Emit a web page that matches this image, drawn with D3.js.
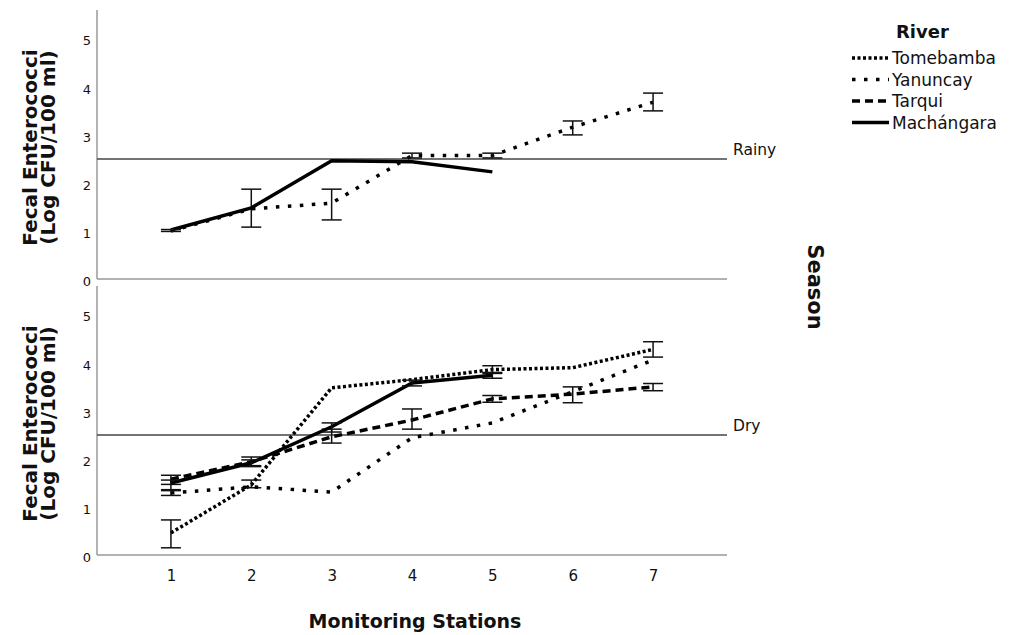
<!DOCTYPE html>
<html>
<head>
<meta charset="utf-8">
<script src="https://cdn.jsdelivr.net/npm/d3@7"></script>
<style>
  body { margin: 0; background: #fff; }
  text { font-family: "DejaVu Sans", sans-serif; fill: #111; }
</style>
</head>
<body>
<div id="chart"></div>
<script>
// stations on the x axis
const stations = [1, 2, 3, 4, 5, 6, 7];
const rivers = ["Tomebamba", "Yanuncay", "Tarqui", "Machángara"];
const yTicks = [0, 1, 2, 3, 4, 5];

// rainy season means and error bars (null = no value)
const rainyYanuncay   = [1.0, 1.46, 1.58, 2.57, 2.57, 3.16, 3.68];
const rainyYanLo      = [null, 1.08, 1.23, 2.52, 2.52, 3.0, 3.5];
const rainyYanHi      = [null, 1.87, 1.87, 2.62, 2.62, 3.29, 3.87];
const rainyMachangara = [1.02, 1.48, 2.46, 2.44, 2.23, null, null];
const rainyMacLo      = [0.99, null, null, null, null, null, null];
const rainyMacHi      = [1.03, null, null, null, null, null, null];

// dry season
const dryTomebamba  = [0.46, 1.46, 3.48, 3.65, 3.86, 3.9, 4.28];
const dryTomLo      = [0.15, 1.4, null, null, 3.78, null, 4.12];
const dryTomHi      = [0.73, 1.56, null, null, 3.94, null, 4.44];
const dryYanuncay   = [1.29, 1.42, 1.31, 2.44, 2.75, 3.4, 4.06];
const dryYanLo      = [1.24, null, null, null, null, null, null];
const dryYanHi      = [1.36, null, null, null, null, null, null];
const dryTarqui     = [1.58, 1.94, 2.46, 2.81, 3.25, 3.35, 3.5];
const dryTarLo      = [1.47, 1.86, 2.33, 2.62, 3.18, 3.17, 3.42];
const dryTarHi      = [1.66, 2.04, 2.62, 3.04, 3.32, 3.5, 3.57];
const dryMachangara = [1.5, 1.92, 2.67, 3.58, 3.74, null, null];
const dryMacLo      = [1.34, 1.84, 2.56, 3.52, 3.68, null, null];
const dryMacHi      = [1.56, 1.98, 2.75, 3.64, 3.8, null, null];

const refValue = 2.5;

const W = 1011, H = 635;
const left = 97, right = 727;

const dash = {
  "Tomebamba": "3,2.5",
  "Yanuncay": "3.5,8.5",
  "Tarqui": "8,5",
  "Machángara": null
};

const svg = d3.select("#chart").append("svg")
  .attr("width", W).attr("height", H);

const x = d3.scalePoint().domain(stations).range([left, right]).padding(0.92);

const panels = [
  { name: "Rainy", top: 10, bottom: 279,
    series: [
      { river: "Yanuncay", vals: rainyYanuncay, lo: rainyYanLo, hi: rainyYanHi },
      { river: "Machángara", vals: rainyMachangara, lo: rainyMacLo, hi: rainyMacHi }
    ] },
  { name: "Dry", top: 286, bottom: 555,
    series: [
      { river: "Tomebamba", vals: dryTomebamba, lo: dryTomLo, hi: dryTomHi },
      { river: "Yanuncay", vals: dryYanuncay, lo: dryYanLo, hi: dryYanHi },
      { river: "Tarqui", vals: dryTarqui, lo: dryTarLo, hi: dryTarHi },
      { river: "Machángara", vals: dryMachangara, lo: dryMacLo, hi: dryMacHi }
    ] }
];

panels.forEach(function (p) {
  const y = d3.scaleLinear().domain([0, 5.6]).range([p.bottom, p.top]);
  const g = svg.append("g");

  // axes frame
  g.append("line").attr("x1", left).attr("x2", left)
    .attr("y1", p.top).attr("y2", p.bottom)
    .attr("stroke", "#999").attr("stroke-width", 1.5);
  g.append("line").attr("x1", left).attr("x2", right)
    .attr("y1", p.bottom).attr("y2", p.bottom)
    .attr("stroke", "#999").attr("stroke-width", 1.5);

  const yAxis = d3.axisLeft(y).tickValues(yTicks).tickSize(0).tickPadding(7)
    .tickFormat(d3.format("d"));
  const ya = g.append("g").attr("transform", "translate(" + (left + 1) + ",2)").call(yAxis);
  ya.select(".domain").remove();
  ya.selectAll("text").style("font-size", "13px").attr("fill", "#222");

  // reference line
  g.append("line").attr("x1", left).attr("x2", right)
    .attr("y1", y(refValue)).attr("y2", y(refValue))
    .attr("stroke", "#444").attr("stroke-width", 1.5);
  g.append("text").attr("x", 733).attr("y", y(refValue) - 4)
    .style("font-size", "15.5px").text(p.name);

  // y title
  const ty = (p.top + p.bottom) / 2 + 3;
  const tt = g.append("text")
    .attr("transform", "translate(37," + ty + ") rotate(-90)")
    .attr("text-anchor", "middle")
    .style("font-size", "20px").style("font-weight", "bold");
  tt.append("tspan").attr("x", 0).attr("dy", 0).text("Fecal Enterococci");
  tt.append("tspan").attr("x", 0).attr("dy", 18).text("(Log CFU/100 ml)");

  const line = d3.line()
    .defined(function (d) { return d.v != null; })
    .x(function (d) { return x(d.s); })
    .y(function (d) { return y(d.v); });

  p.series.forEach(function (s) {
    const pts = stations.map(function (st, i) { return { s: st, v: s.vals[i] }; });
    g.append("path").datum(pts)
      .attr("d", line)
      .attr("fill", "none")
      .attr("stroke", "#000")
      .attr("stroke-width", 3.5)
      .attr("stroke-dasharray", dash[s.river]);

    if (s.lo) {
      stations.forEach(function (st, i) {
        if (s.lo[i] == null) return;
        const cx = x(st);
        const eg = g.append("g").attr("stroke", "#111").attr("stroke-width", 1.5);
        eg.append("line").attr("x1", cx).attr("x2", cx)
          .attr("y1", y(s.lo[i])).attr("y2", y(s.hi[i]));
        eg.append("line").attr("x1", cx - 10).attr("x2", cx + 10)
          .attr("y1", y(s.lo[i])).attr("y2", y(s.lo[i]));
        eg.append("line").attr("x1", cx - 10).attr("x2", cx + 10)
          .attr("y1", y(s.hi[i])).attr("y2", y(s.hi[i]));
      });
    }
  });
});

// x axis labels
const xAxis = d3.axisBottom(x).tickSize(0).tickPadding(15);
const xa = svg.append("g").attr("transform", "translate(0,555)").call(xAxis);
xa.select(".domain").remove();
xa.selectAll("text").style("font-size", "15px").attr("fill", "#222");

svg.append("text").attr("x", (left + right) / 2 + 3).attr("y", 628)
  .attr("text-anchor", "middle")
  .style("font-size", "19px").style("font-weight", "bold")
  .text("Monitoring Stations");

// season strip label
svg.append("text").attr("transform", "translate(808,287) rotate(90)")
  .attr("text-anchor", "middle")
  .style("font-size", "21px").style("font-weight", "bold")
  .text("Season");

// legend
const lg = svg.append("g");
lg.append("text").attr("x", 896).attr("y", 38)
  .style("font-size", "18px").style("font-weight", "bold").text("River");
rivers.forEach(function (r, i) {
  const yy = 58 + i * 21.5;
  lg.append("line").attr("x1", 852).attr("x2", 889)
    .attr("y1", yy).attr("y2", yy)
    .attr("stroke", "#000").attr("stroke-width", 3.5)
    .attr("stroke-dasharray", dash[r]);
  lg.append("text").attr("x", 892).attr("y", yy + 6)
    .style("font-size", "17px").text(r);
});
</script>
</body>
</html>
